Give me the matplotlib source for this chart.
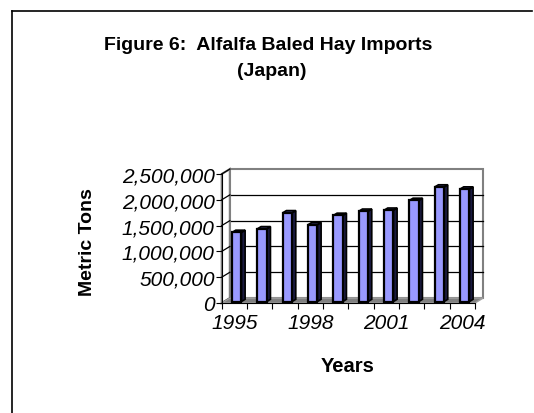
import numpy as np
import matplotlib.pyplot as plt
from matplotlib.patches import Polygon, Rectangle
from matplotlib.lines import Line2D

# data (metric tons)
years = [1995, 1996, 1997, 1998, 1999, 2000, 2001, 2002, 2003, 2004]
imports = [1340000, 1410000, 1720000, 1490000, 1670000, 1750000, 1770000,
           1960000, 2220000, 2180000]
yticks = [0, 500000, 1000000, 1500000, 2000000, 2500000]
year_labels = ["1995", "1998", "2001", "2004"]
label_pos = [0, 3, 6, 9]

plt.rcParams['font.family'] = ['Liberation Sans', 'DejaVu Sans']

W, H = 534, 414
fig = plt.figure(figsize=(W / 100, H / 100), dpi=100)

# frame around the chart area (only left/top fall inside the picture)
fig.add_artist(Line2D([11.5 / W, 11.5 / W], [0, 1 - 11.5 / H], color='black', lw=1.2))
fig.add_artist(Line2D([11.5 / W, 532 / W], [1 - 11.5 / H, 1 - 11.5 / H], color='black', lw=1.2))

ax = fig.add_axes([221.7 / W, (H - 304) / H, 253.3 / W, 129 / H])
ax.set_xlim(-0.5, 9.5)
ax.set_ylim(0, 2500000)
ax.set_facecolor('none')
for s in ['top', 'right']:
    ax.spines[s].set_visible(False)
ax.spines['left'].set_color('black')
ax.spines['bottom'].set_color('black')

# depth offsets (data units) for the 3-D look
DX = 0.32
DY = 95000
YMAX = 2500000
n = len(years)
x0, x1 = -0.5, n - 0.5
kw = dict(clip_on=False)

# back wall
ax.add_patch(Rectangle((x0 + DX, DY), x1 - x0, YMAX, facecolor='white',
                       edgecolor='#808080', lw=1.5, zorder=0, **kw))
for v in yticks[1:-1]:
    ax.plot([x0 + DX, x1 + DX], [v + DY, v + DY], color='black', lw=0.9, zorder=0.5, **kw)
# left wall
ax.add_patch(Polygon([(x0, 0), (x0 + DX, DY), (x0 + DX, YMAX + DY), (x0, YMAX)],
                     facecolor='white', edgecolor='#808080', lw=1.5, zorder=0.6, **kw))
for v in yticks:
    ax.plot([x0, x0 + DX], [v, v + DY], color='black', lw=0.9, zorder=0.7, **kw)
# floor
ax.add_patch(Polygon([(x0, 0), (x1, 0), (x1 + DX, DY), (x0 + DX, DY)],
                     facecolor='#808080', edgecolor='#a0a0a0', lw=1, zorder=0.8, **kw))

# bars
bw = 0.37
f0, f1 = 0.3, 0.75
xs = np.arange(n) + f0 * DX
bars = ax.bar(xs, imports, width=bw, bottom=f0 * DY, color='#9999FF',
              edgecolor='black', lw=1.6, zorder=3)
dxb = (f1 - f0) * DX
dyb = (f1 - f0) * DY
for b in bars:
    l = b.get_x()
    r = l + b.get_width()
    bot = b.get_y()
    top = bot + b.get_height()
    ax.add_patch(Polygon([(r, bot), (r + dxb, bot + dyb), (r + dxb, top + dyb), (r, top)],
                         facecolor='#1a1a40', edgecolor='black', lw=1.2, zorder=2.5))
    ax.add_patch(Polygon([(l, top), (l + dxb, top + dyb), (r + dxb, top + dyb), (r, top)],
                         facecolor='#333366', edgecolor='black', lw=1.2, zorder=2.5))

ax.set_yticks(yticks)
ax.set_yticklabels([f"{v:,}" for v in yticks], fontsize=15, style='italic')
ax.set_xticks(np.arange(n + 1) - 0.5)
ax.set_xticklabels([])
ax.tick_params(axis='x', length=4, direction='out', color='black')
ax.tick_params(axis='y', length=4, direction='out', color='black', pad=1)
for p, lab in zip(label_pos, year_labels):
    ax.text(p, -0.075, lab, transform=ax.get_xaxis_transform(), ha='center',
            va='top', fontsize=15, style='italic')

fig.text(268.5 / W, 1 - 45 / H, "Figure 6:  Alfalfa Baled Hay Imports", ha='center',
         va='center', fontsize=14, fontweight='bold')
fig.text(272 / W, 1 - 72 / H, "(Japan)", ha='center', va='center', fontsize=14,
         fontweight='bold')
fig.text(88 / W, 1 - 242 / H, "Metric Tons", rotation=90, ha='center', va='center',
         fontsize=14, fontweight='bold')
fig.text(348 / W, 1 - 367 / H, "Years", ha='center', va='center', fontsize=14.5,
         fontweight='bold')

fig.savefig("out.png", dpi=100)
